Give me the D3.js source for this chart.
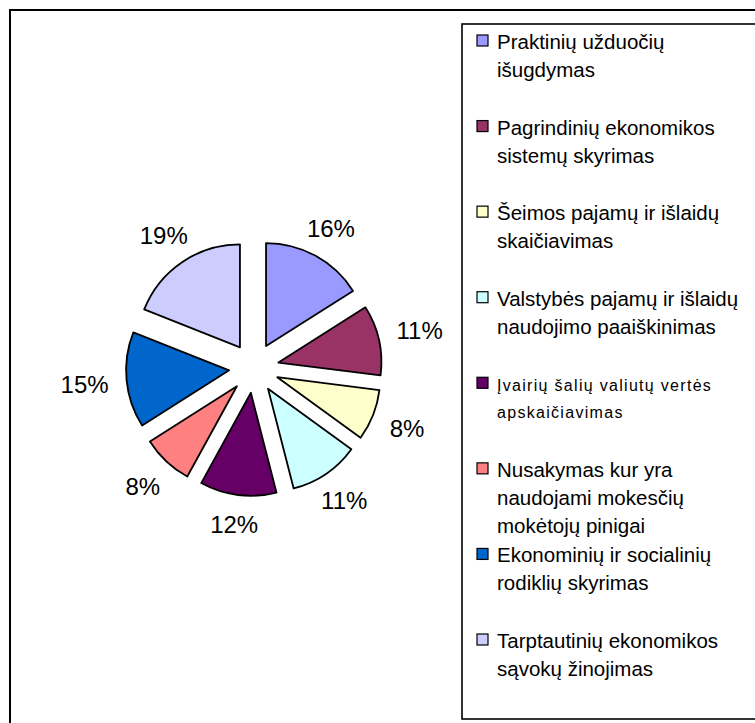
<!DOCTYPE html>
<html>
<head>
<meta charset="utf-8">
<script src="https://cdn.jsdelivr.net/npm/d3@7/dist/d3.min.js"></script>
<style>
  html, body { margin: 0; padding: 0; background: #fff; }
  svg { display: block; }
</style>
</head>
<body>
<svg id="chart" width="755" height="723"></svg>
<script>
// ---- data ----
const categories = [
  "Praktinių užduočių\nišugdymas",
  "Pagrindinių ekonomikos\nsistemų skyrimas",
  "Šeimos pajamų ir išlaidų\nskaičiavimas",
  "Valstybės pajamų ir išlaidų\nnaudojimo paaiškinimas",
  "Įvairių šalių valiutų vertės\napskaičiavimas",
  "Nusakymas kur yra\nnaudojami mokesčių\nmokėtojų pinigai",
  "Ekonominių ir socialinių\nrodiklių skyrimas",
  "Tarptautinių ekonomikos\nsąvokų žinojimas"
];
const values = [16, 11, 8, 11, 12, 8, 15, 19];
const valueLabels = ["16%", "11%", "8%", "11%", "12%", "8%", "15%", "19%"];
const colors = ["#9999FF", "#993366", "#FFFFCC", "#CCFFFF", "#660066", "#FF8080", "#0066CC", "#CCCCFF"];

// ---- layout ----
const svg = d3.select("#chart");
const font = "'Liberation Sans', Arial, sans-serif";

// outer chart border (right/bottom edges run off the picture)
svg.append("rect")
  .attr("x", 10).attr("y", 10)
  .attr("width", 800).attr("height", 780)
  .attr("fill", "#fff").attr("stroke", "#000").attr("stroke-width", 2);

const cx = 254, cy = 368, R = 103, explode = 25, labelAnchor = 146, pctSize = 24;

const pie = d3.pie().sort(null).value(d => d).startAngle(0).endAngle(2 * Math.PI);
const arcs = pie(values);
const arc = d3.arc().innerRadius(0).outerRadius(R);
const mid = d => (d.startAngle + d.endAngle) / 2;

const g = svg.append("g").attr("transform", `translate(${cx},${cy})`);

g.selectAll("path.slice")
  .data(arcs)
  .join("path")
  .attr("class", "slice")
  .attr("transform", d => `translate(${Math.sin(mid(d)) * explode},${-Math.cos(mid(d)) * explode})`)
  .attr("d", arc)
  .attr("fill", (d, i) => colors[i])
  .attr("stroke", "#000")
  .attr("stroke-width", 1.8)
  .attr("stroke-linejoin", "round");

// percentage labels: box placed just outside an anchor circle, on the bisector
const labels = g.selectAll("text.pct")
  .data(arcs)
  .join("text")
  .attr("class", "pct")
  .attr("text-anchor", "middle")
  .attr("dominant-baseline", "central")
  .attr("font-family", font)
  .attr("font-size", pctSize)
  .attr("fill", "#000")
  .text((d, i) => valueLabels[i]);

labels.each(function(d) {
  const w = this.getComputedTextLength();
  const h = pctSize;
  const s = Math.sin(mid(d)), c = -Math.cos(mid(d));
  const e = Math.min(Math.abs(s) > 1e-6 ? (w / 2) / Math.abs(s) : Infinity,
                     Math.abs(c) > 1e-6 ? (h / 2) / Math.abs(c) : Infinity);
  const r = labelAnchor + e;
  d3.select(this).attr("x", s * r).attr("y", c * r);
});

// ---- legend ----
svg.append("rect")
  .attr("x", 462).attr("y", 24)
  .attr("width", 400).attr("height", 695)
  .attr("fill", "#fff").attr("stroke", "#000").attr("stroke-width", 1.6);

const legendY = d3.scalePoint().domain(d3.range(categories.length)).range([49, 648]);

const items = svg.append("g").selectAll("g.item")
  .data(categories)
  .join("g")
  .attr("class", "item")
  .attr("transform", (d, i) => `translate(0,${legendY(i)})`);

items.append("rect")
  .attr("x", 477).attr("y", -14)
  .attr("width", 11).attr("height", 11)
  .attr("fill", (d, i) => colors[i])
  .attr("stroke", "#000").attr("stroke-width", 1.2);

items.each(function(d, i) {
  const small = i === 4;
  const t = d3.select(this).append("text")
    .attr("font-family", font)
    .attr("font-size", small ? 16 : 20.5)
    .attr("letter-spacing", small ? 1.3 : 0)
    .attr("fill", "#000");
  d.split("\n").forEach((line, k) => {
    t.append("tspan")
      .attr("x", 497)
      .attr("y", k * (small ? 27 : 28))
      .text(line);
  });
});
</script>
</body>
</html>
